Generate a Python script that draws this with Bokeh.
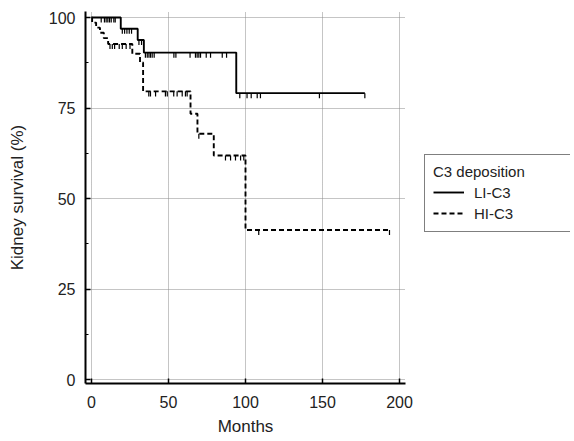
import numpy as np
from bokeh.plotting import figure
from bokeh.layouts import row
from bokeh.models import Range1d, Legend, LegendItem, FixedTicker, ColumnDataSource
from bokeh.embed import file_html
from bokeh.resources import INLINE

# ---- data ----
li_times = [0, 19, 30, 34, 94, 177.5]
li_surv = [100, 96.9, 93.8, 90.3, 79.1, 79.1]
li_censor = [6.3, 8.4, 9.5, 10.6, 11.7, 12.8, 14.5, 15.4, 20, 21.5, 23, 24.5, 26,
             30.8, 32.5, 35, 36.2, 37.3, 38.3, 39.4, 40.7, 53.5, 54.8, 64, 67.5,
             68.6, 69.7, 70.8, 74.5, 77.3, 84.9, 87.7, 96.3, 101, 103.7, 107.6,
             109.7, 148, 177.5]

hi_times = [0, 0.4, 3, 5.5, 8, 10.8, 26.5, 31.5, 33.5, 64.3, 68.8, 79.4, 100, 193.5]
hi_surv = [100, 98.6, 97.2, 95.8, 94.3, 92.7, 90.0, 87.6, 79.6, 73.4, 67.9, 61.9, 41.3, 41.3]
hi_censor = [12, 13.5, 15, 18, 20, 22.5, 25, 37.2, 38.3, 41.6, 48, 49.2, 53.4, 55.6,
             58.9, 61, 62.1, 69.7, 87, 90.3, 93.5, 96.8, 98.9, 108.6, 193.5]

x_ticks = [0, 50, 100, 150, 200]
y_ticks = [0, 25, 50, 75, 100]
group_names = ["LI-C3", "HI-C3"]
legend_title = "C3 deposition"

FONT = "Liberation Sans"
TXT = "#222222"
SOLID = dict(line_color="black", line_width=1.9)
DASHED = dict(line_color="black", line_width=1.9, line_dash="5 3")


def censor_y(times, surv, cens):
    t = np.asarray(times)
    s = np.asarray(surv)
    idx = np.searchsorted(t, np.asarray(cens), side="right") - 1
    return s[idx]


p = figure(width=419, height=439, output_backend="svg", toolbar_location=None,
           x_range=Range1d(-3.9, 203.9), y_range=Range1d(-1.1, 101.66),
           min_border_left=85, min_border_right=14, min_border_top=11,
           min_border_bottom=56)
p.outline_line_color = None
p.background_fill_color = "white"
p.border_fill_color = "white"

# grid
for g in (p.xgrid, p.ygrid):
    g.grid_line_color = "#8a8a8a"
    g.grid_line_dash = "1 1"
    g.grid_line_width = 1
p.xgrid.ticker = FixedTicker(ticks=x_ticks)
p.ygrid.ticker = FixedTicker(ticks=y_ticks)

# axes
p.xaxis.ticker = FixedTicker(ticks=x_ticks)
p.yaxis.ticker = FixedTicker(ticks=y_ticks, minor_ticks=[12.5, 37.5, 62.5, 87.5])
for ax in (p.xaxis[0], p.yaxis[0]):
    ax.axis_line_width = 2
    ax.axis_line_color = "black"
    ax.major_tick_in = 5
    ax.major_tick_out = 0
    ax.major_tick_line_width = 1.5
    ax.major_tick_line_color = "black"
    ax.major_label_text_font = FONT
    ax.major_label_text_font_size = "16px"
    ax.major_label_text_color = TXT
    ax.axis_label_text_font = FONT
    ax.axis_label_text_font_size = "17px"
    ax.axis_label_text_font_style = "normal"
    ax.axis_label_text_color = TXT
p.xaxis.minor_tick_line_color = None
p.yaxis.minor_tick_in = 3
p.yaxis.minor_tick_out = 0
p.yaxis.minor_tick_line_color = "black"
p.xaxis.major_label_standoff = 12
p.yaxis.major_label_standoff = 10
p.xaxis.axis_label = "Months"
p.yaxis.axis_label = "Kidney survival (%)"
p.xaxis.axis_label_standoff = 6
p.yaxis.axis_label_standoff = 19

# curves
p.step(li_times, li_surv, mode="after", **SOLID)
p.step(hi_times, hi_surv, mode="after", **DASHED)

tick_len = 1.4
for times, surv, cens in ((li_times, li_surv, li_censor), (hi_times, hi_surv, hi_censor)):
    cy = censor_y(times, surv, cens)
    src = ColumnDataSource(dict(x=cens, y0=cy, y1=cy - tick_len))
    p.segment(x0="x", y0="y0", x1="x", y1="y1", source=src,
              line_color="black", line_width=1.2)

# legend panel (separate figure to the right)
q = figure(width=151, height=439, output_backend="svg", toolbar_location=None,
           x_range=Range1d(0, 1), y_range=Range1d(0, 1),
           min_border_left=0, min_border_right=0, min_border_top=0,
           min_border_bottom=0)
q.axis.visible = False
q.grid.visible = False
q.outline_line_color = None
# same series drawn outside this panel's range: only used as legend keys
k_li = q.step(li_times, li_surv, mode="after", **SOLID)
k_hi = q.step(hi_times, hi_surv, mode="after", **DASHED)

legend = Legend(items=[LegendItem(label=group_names[0], renderers=[k_li]),
                       LegendItem(label=group_names[1], renderers=[k_hi])],
                title=legend_title)
legend.title_text_font = FONT
legend.title_text_font_size = "15px"
legend.title_text_font_style = "normal"
legend.title_text_color = TXT
legend.title_standoff = 2
legend.label_text_font = FONT
legend.label_text_font_size = "15px"
legend.label_text_color = TXT
legend.label_height = 20
legend.glyph_height = 20
legend.glyph_width = 31
legend.label_standoff = 10
legend.label_width = 88
legend.spacing = 1
legend.padding = 8
legend.margin = 0
legend.border_line_color = "black"
legend.border_line_width = 1.5
legend.background_fill_alpha = 0
legend.location = (5, 151)
q.add_layout(legend, "center")

open("out.html", "w").write(file_html(row(p, q), INLINE))
